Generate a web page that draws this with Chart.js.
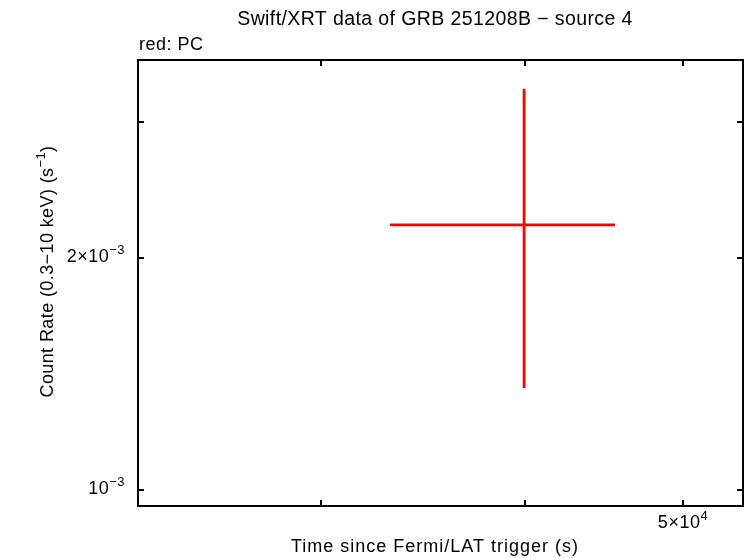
<!DOCTYPE html>
<html><head><meta charset="utf-8">
<script src="https://cdn.jsdelivr.net/npm/chart.js@4.4.1/dist/chart.umd.min.js"></script>
<style>html,body{margin:0;padding:0;background:#fff}#wrap{width:746px;height:558px}</style>
</head><body><div id="wrap"><canvas id="c" width="746" height="558"></canvas></div>
<script>
// ---- data ----
const times = [39950];
const timeErrLow = [33060];
const timeErrHigh = [45420];
const rates = [2.207e-3];
const rateErrLow = [1.356e-3];
const rateErrHigh = [3.314e-3];
const xTickValues = [3e4, 4e4, 5e4];
const xTickLabels = ['', '', '5×10^{4}'];
const yTickValues = [1e-3, 2e-3, 3e-3];
const yTickLabels = ['10^{−3}', '2×10^{−3}', ''];
const chartTitle = 'Swift/XRT data of GRB 251208B − source 4';
const legendText = 'red: PC';
const xTitle = 'Time since Fermi/LAT trigger (s)';
const yTitle = 'Count Rate (0.3−10 keV) (s^{−1})';
const xRange = [23160, 54420];
const yRange = [9.533e-4, 3.612e-3];

const FONT = '"Liberation Sans", Arial, Helvetica, sans-serif';

function parseRich(s){
  const parts=[]; const re=/\^\{([^}]*)\}/g; let last=0, m;
  while((m=re.exec(s))){ if(m.index>last) parts.push({t:s.slice(last,m.index),sup:false}); parts.push({t:m[1],sup:true}); last=re.lastIndex; }
  if(last<s.length) parts.push({t:s.slice(last),sup:false});
  return parts;
}
function drawRich(ctx, s, x, y, align, fs, sp){
  const parts=parseRich(s);
  if(ctx.letterSpacing!==undefined) ctx.letterSpacing=sp+'px';
  const sz=p=>p.sup?Math.round(fs*0.7):fs;
  let w=0;
  parts.forEach(p=>{ctx.font=sz(p)+'px '+FONT; p.w=ctx.measureText(p.t).width; w+=p.w;});
  let cx = align==='right'? x-w : align==='center'? x-w/2 : x;
  parts.forEach(p=>{ctx.font=sz(p)+'px '+FONT; ctx.textAlign='left'; ctx.textBaseline='middle';
    ctx.fillText(p.t, cx, p.sup? y-fs*0.38 : y); cx+=p.w;});
}

const datasets=[];
for(let i=0;i<times.length;i++){
  datasets.push({data:[{x:timeErrLow[i],y:rates[i]},{x:timeErrHigh[i],y:rates[i]}]});
  datasets.push({data:[{x:times[i],y:rateErrLow[i]},{x:times[i],y:rateErrHigh[i]}]});
}
datasets.forEach(d=>Object.assign(d,{borderColor:'#ff0000',borderWidth:2.8,pointRadius:0,showLine:true,fill:false,borderCapStyle:'butt'}));

const frame={
  id:'frame',
  afterDraw(chart){
    const ctx=chart.ctx, a=chart.chartArea, xs=chart.scales.x, ys=chart.scales.y;
    ctx.save();
    ctx.fillStyle='#000'; ctx.strokeStyle='#000'; ctx.lineWidth=2;
    ctx.strokeRect(a.left,a.top,a.right-a.left,a.bottom-a.top);
    const TL=6;
    ctx.beginPath();
    xTickValues.forEach(v=>{const px=Math.round(xs.getPixelForValue(v));
      ctx.moveTo(px,a.bottom); ctx.lineTo(px,a.bottom-TL); ctx.moveTo(px,a.top); ctx.lineTo(px,a.top+TL);});
    yTickValues.forEach(v=>{const py=Math.round(ys.getPixelForValue(v));
      ctx.moveTo(a.left,py); ctx.lineTo(a.left+TL,py); ctx.moveTo(a.right,py); ctx.lineTo(a.right-TL,py);});
    ctx.stroke();
    xTickValues.forEach((v,i)=>{ if(xTickLabels[i]) drawRich(ctx,xTickLabels[i],xs.getPixelForValue(v),a.bottom+17,'center',18,0.5);});
    yTickValues.forEach((v,i)=>{ if(yTickLabels[i]) drawRich(ctx,yTickLabels[i],a.left-13,ys.getPixelForValue(v)-1,'right',18,0.5);});
    drawRich(ctx,chartTitle,435,20,'center',19.5,0.4);
    drawRich(ctx,legendText,139,45,'left',18,0.5);
    drawRich(ctx,xTitle,435,547,'center',18,1);
    ctx.translate(48,271.5); ctx.rotate(-Math.PI/2);
    drawRich(ctx,yTitle,0,0,'center',18,0.4);
    ctx.restore();
  }
};

new Chart(document.getElementById('c'),{
  type:'scatter',
  data:{datasets},
  options:{
    responsive:false, animation:false, devicePixelRatio:1,
    layout:{padding:{top:60,right:3,left:0,bottom:0}},
    plugins:{legend:{display:false},tooltip:{enabled:false},title:{display:false}},
    scales:{
      x:{type:'logarithmic',min:xRange[0],max:xRange[1],
        afterFit(s){s.height=52;},
        afterBuildTicks(s){s.ticks=xTickValues.map(v=>({value:v}));},
        ticks:{display:false},grid:{display:false},border:{display:false}},
      y:{type:'logarithmic',min:yRange[0],max:yRange[1],
        afterFit(s){s.width=138;},
        afterBuildTicks(s){s.ticks=yTickValues.map(v=>({value:v}));},
        ticks:{display:false},grid:{display:false},border:{display:false}}
    }
  },
  plugins:[frame]
});
</script></body></html>
